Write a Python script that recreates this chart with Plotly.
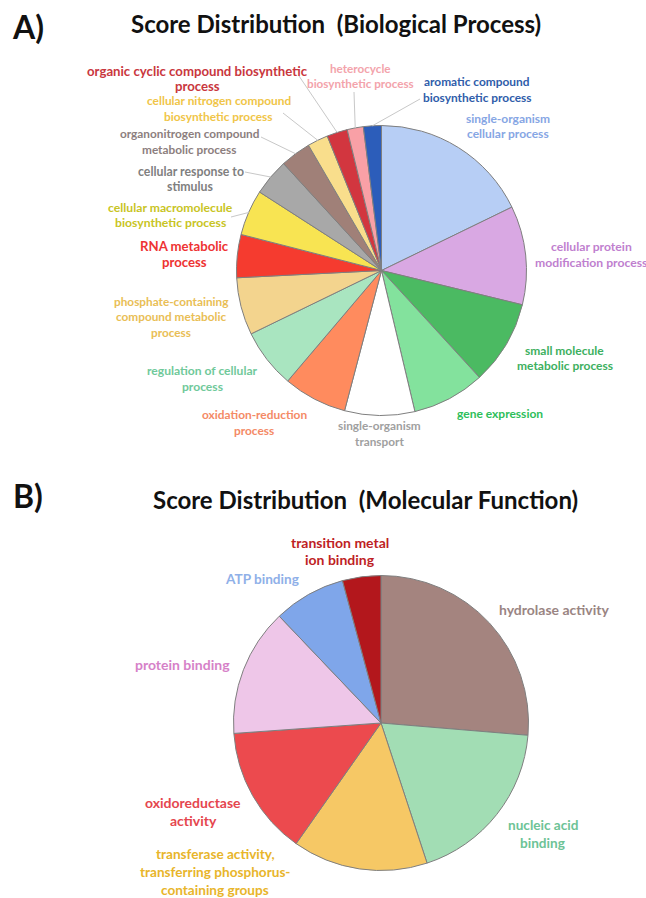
import numpy as np
import plotly.graph_objects as go

W, H = 646, 898

# ---------------- data ----------------
bp_labels = [
    "single-organism cellular process",
    "cellular protein modification process",
    "small molecule metabolic process",
    "gene expression",
    "single-organism transport",
    "oxidation-reduction process",
    "regulation of cellular process",
    "phosphate-containing compound metabolic process",
    "RNA metabolic process",
    "cellular macromolecule biosynthetic process",
    "cellular response to stimulus",
    "organonitrogen compound metabolic process",
    "cellular nitrogen compound biosynthetic process",
    "organic cyclic compound biosynthetic process",
    "heterocycle biosynthetic process",
    "aromatic compound biosynthetic process",
]
bp_values = [17.8, 11.0, 9.4, 8.1, 7.8, 7.1, 6.6, 6.4, 4.8, 5.1, 4.1, 3.4, 2.3, 2.3, 1.8, 2.0]
bp_display = [
    "single-organism<br>cellular process",
    "cellular protein<br>modification process",
    "small molecule<br>metabolic process",
    "gene expression",
    "single-organism<br>transport",
    "oxidation-reduction<br>process",
    "regulation of cellular<br>process",
    "phosphate-containing<br>compound metabolic<br>process",
    "RNA metabolic<br>process",
    "cellular macromolecule<br>biosynthetic process",
    "cellular response to<br>stimulus",
    "organonitrogen compound<br>metabolic process",
    "cellular nitrogen compound<br>biosynthetic process",
    "organic cyclic compound biosynthetic<br>process",
    "heterocycle<br>biosynthetic process",
    "aromatic compound<br>biosynthetic process",
]

mf_labels = [
    "hydrolase activity",
    "nucleic acid binding",
    "transferase activity, transferring phosphorus-containing groups",
    "oxidoreductase activity",
    "protein binding",
    "ATP binding",
    "transition metal ion binding",
]
mf_values = [26.3, 18.6, 14.8, 14.1, 14.0, 7.9, 4.2]
mf_display = [
    "hydrolase activity",
    "nucleic acid<br>binding",
    "transferase activity,<br>transferring phosphorus-<br>containing groups",
    "oxidoreductase<br>activity",
    "protein binding",
    "ATP binding",
    "transition metal<br>ion binding",
]

titles = ["Score Distribution\u00a0\u00a0(Biological Process)",
          "Score Distribution\u00a0\u00a0(Molecular\u00a0Function)"]
panel_tags = ["A)", "B)"]

# ---------------- styles ----------------
bp_colors = ["#B7CEF5", "#D9A8E3", "#4BBA62", "#83E29D", "#FFFFFF", "#FF8B5E",
             "#A9E5C0", "#F3D48E", "#F53B2F", "#F8E452", "#A8A8A8", "#A08078",
             "#F9DE8C", "#D2363F", "#F9A0A6", "#2C5DBA"]
bp_text_colors = ["#86A6E4", "#BF7FCF", "#3DB060", "#2DBE5A", "#A0A0A0", "#F48A66",
                  "#70C99A", "#E9BE55", "#EE3333", "#C8C424", "#7F7F7F", "#8C7E7E",
                  "#F0C548", "#C9373E", "#F3A3AB", "#2F5DAA"]
bp_font_sizes = [12, 12.2, 12, 12, 11.8, 11.9, 12.1, 11.8, 13.2, 12.2, 12.3, 11.8,
                 11.9, 13.2, 11.7, 11.9]
bp_label_pos = [(507.5, 126), (591, 254.5), (564.5, 358), (500, 413.5), (379, 433.5),
                (254, 422.5), (202, 378.5), (171, 317), (185, 254), (170, 215),
                (190.5, 179), (189, 141.5), (219, 108.5), (197, 78.5), (360, 75.5),
                (477, 89.5)]
# leader line start points (None = no leader)
bp_leader_start = [None, None, None, None, None, None, None, None, None,
                   (231, 217), (245, 172), (261, 137), (283, 113), (299, 76),
                   (354, 92), (420, 99)]

mf_colors = ["#A4847F", "#A2DDB4", "#F6C865", "#EC4A4E", "#EEC6E8", "#7FA6EA", "#B3171C"]
mf_text_colors = ["#9A8583", "#6DC396", "#E8B52A", "#E5464E", "#D681C8", "#8FB0E8", "#BE1E24"]
mf_font_sizes = [14, 13.6, 13.6, 14, 14, 13.6, 14]
mf_label_pos = [(554, 609.5), (542.5, 834), (215, 872), (193, 811.5), (182.5, 664.5),
                (261.5, 579), (340, 551)]

top_c, top_r = (381.5, 270.5), 145
bot_c, bot_r = (381, 723), 147.5

FONT = "Lato"


def px(x):
    return x / W


def py(y):
    return 1 - y / H


def domain(c, r):
    return dict(x=[px(c[0] - r), px(c[0] + r)], y=[py(c[1] + r), py(c[1] - r)])


fig = go.Figure()
for vals, labs, cols, c, r in [(bp_values, bp_labels, bp_colors, top_c, top_r),
                                (mf_values, mf_labels, mf_colors, bot_c, bot_r)]:
    fig.add_trace(go.Pie(
        values=vals, labels=labs, sort=False, direction="clockwise", rotation=0,
        marker=dict(colors=cols, line=dict(color="#7F7F7F", width=1)),
        textinfo="none", showlegend=False, domain=domain(c, r), hoverinfo="label+value",
    ))

annotations = []
shapes = []


def add_label(disp, color, size, pos, spacing):
    lines = disp.split("<br>")
    n = len(lines)
    for k, ln in enumerate(lines):
        y = pos[1] + (k - (n - 1) / 2) * spacing
        annotations.append(dict(x=px(pos[0]), y=py(y), xref="paper", yref="paper",
                                showarrow=False, text="<b>%s</b>" % ln,
                                xanchor="center", yanchor="middle",
                                font=dict(family=FONT, size=size, color=color)))


for disp, tc, fs, pos in zip(bp_display, bp_text_colors, bp_font_sizes, bp_label_pos):
    add_label(disp, tc, fs, pos, 15.8)
for disp, tc, fs, pos in zip(mf_display, mf_text_colors, mf_font_sizes, mf_label_pos):
    add_label(disp, tc, fs, pos, 17.6)

# leader lines to the middle of the slice arc, computed from the data
vals = np.array(bp_values, dtype=float)
mid = (np.cumsum(vals) - vals / 2) / vals.sum() * 2 * np.pi
for th, start in zip(mid, bp_leader_start):
    if start is None:
        continue
    ex = top_c[0] + top_r * np.sin(th)
    ey = top_c[1] - top_r * np.cos(th)
    shapes.append(dict(type="line", xref="paper", yref="paper",
                       x0=px(start[0]), y0=py(start[1]), x1=px(ex), y1=py(ey),
                       line=dict(color="#C8C8C8", width=1)))

for t, (x, y) in zip(titles, [(336, 24), (365, 499)]):
    annotations.append(dict(x=px(x), y=py(y), xref="paper", yref="paper", showarrow=False,
                            text="<b>%s</b>" % t, xanchor="center", yanchor="middle",
                            font=dict(family=FONT, size=24, color="#111111")))
for t, (x, y) in zip(panel_tags, [(28, 26), (27.5, 495)]):
    annotations.append(dict(x=px(x), y=py(y), xref="paper", yref="paper", showarrow=False,
                            text="<b>%s</b>" % t, xanchor="center", yanchor="middle",
                            font=dict(family=FONT, size=32, color="#111111")))

fig.update_layout(width=W, height=H, autosize=False,
                  margin=dict(l=0, r=0, t=0, b=0),
                  paper_bgcolor="white", plot_bgcolor="white",
                  annotations=annotations, shapes=shapes)

fig.write_html("out.html", config=dict(displayModeBar=False),
               post_script="document.body.style.margin='0';document.body.style.padding='0';")
